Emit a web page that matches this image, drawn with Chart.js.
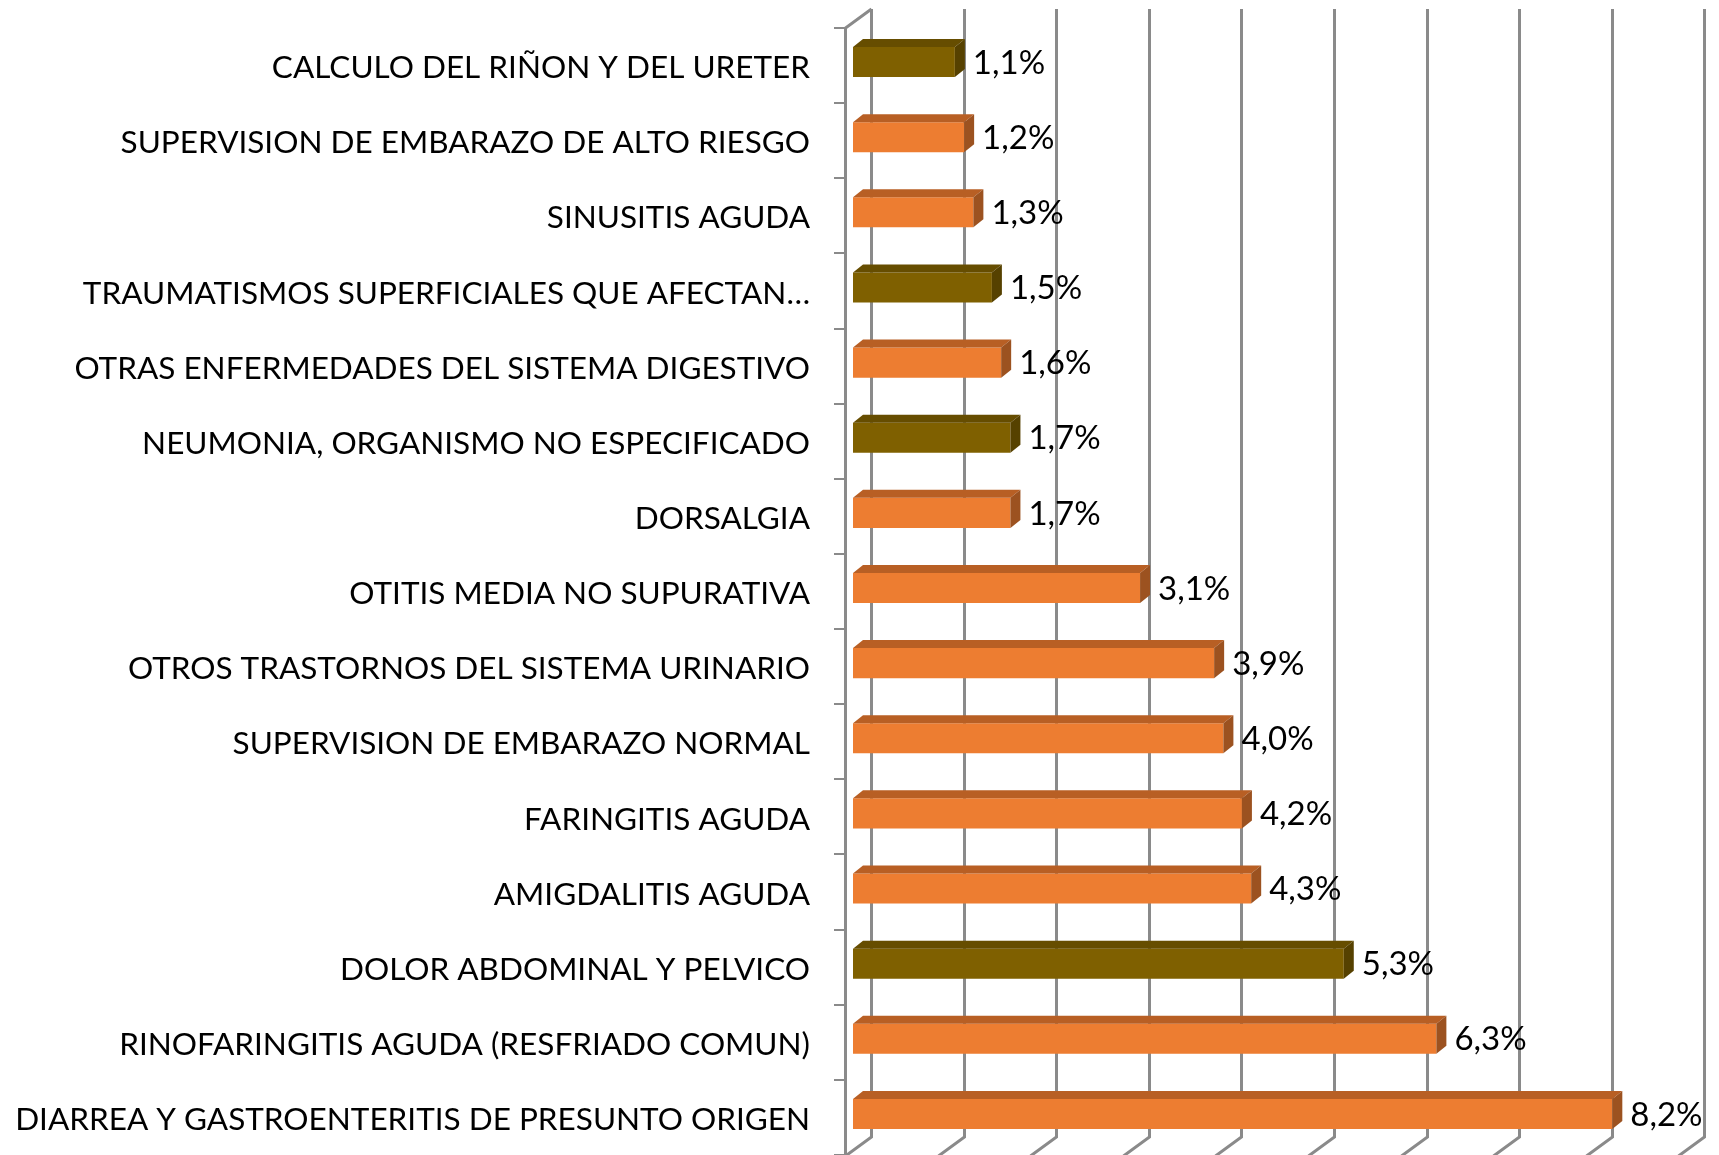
<!DOCTYPE html>
<html>
<head>
<meta charset="utf-8">
<script src="https://cdn.jsdelivr.net/npm/chart.js@4.4.1/dist/chart.umd.min.js"></script>
<style>
html,body{margin:0;padding:0;background:#fff;}
#wrap{width:1719px;height:1155px;}
</style>
</head>
<body>
<div id="wrap"><canvas id="c" width="1719" height="1155"></canvas></div>
<script>
const categories = [
  "CALCULO DEL RIÑON Y DEL URETER",
  "SUPERVISION DE EMBARAZO DE ALTO RIESGO",
  "SINUSITIS AGUDA",
  "TRAUMATISMOS SUPERFICIALES QUE AFECTAN…",
  "OTRAS ENFERMEDADES DEL SISTEMA DIGESTIVO",
  "NEUMONIA, ORGANISMO NO ESPECIFICADO",
  "DORSALGIA",
  "OTITIS MEDIA NO SUPURATIVA",
  "OTROS TRASTORNOS DEL SISTEMA URINARIO",
  "SUPERVISION DE EMBARAZO NORMAL",
  "FARINGITIS AGUDA",
  "AMIGDALITIS AGUDA",
  "DOLOR ABDOMINAL Y PELVICO",
  "RINOFARINGITIS AGUDA (RESFRIADO COMUN)",
  "DIARREA Y GASTROENTERITIS DE PRESUNTO ORIGEN"
];
const percentages = [1.1, 1.2, 1.3, 1.5, 1.6, 1.7, 1.7, 3.1, 3.9, 4.0, 4.2, 4.3, 5.3, 6.3, 8.2];
const highlighted = [true, false, false, true, false, true, false, false, false, false, false, false, true, false, false];
const axisTicks = [0, 1, 2, 3, 4, 5, 6, 7, 8, 9];

const ORANGE = {front:'#ED7D31', top:'#B85F24', side:'#9C5220'};
const OLIVE  = {front:'#7F6000', top:'#664D00', side:'#564100'};
const FONT = 'Lato';
const FS_CAT = 31.5;
const FS_VAL = 33;
const GRID = '#8A8A8A';

const fmt = v => v.toFixed(1).replace('.', ',') + '%';

const threeD = {
  id: 'threeD',
  beforeDatasetsDraw(chart) {
    const ctx = chart.ctx;
    const xs = chart.scales.x, ys = chart.scales.y;
    const backDX = 18, backTop = 9, backBottom = 1137;
    const frontX = 845, frontTop = ys.top + 3.5, frontBottom = 1160;
    ctx.save();
    ctx.strokeStyle = GRID;
    ctx.lineWidth = 3;
    axisTicks.forEach(t => {
      const gx = Math.round(xs.getPixelForValue(t) + backDX) + 0.5;
      ctx.beginPath();
      ctx.moveTo(gx, backTop);
      ctx.lineTo(gx, backBottom);
      ctx.lineTo(gx - 26, backBottom + 19);
      ctx.stroke();
    });
    const x0 = Math.round(xs.getPixelForValue(0) + backDX) + 0.5;
    ctx.beginPath();
    ctx.moveTo(x0, backTop);
    ctx.lineTo(frontX + 0.5, frontTop);
    ctx.lineTo(frontX + 0.5, frontBottom);
    ctx.stroke();
    ctx.lineWidth = 2;
    const n = categories.length;
    const band = (ys.bottom - ys.top) / n;
    for (let i = 0; i <= n; i++) {
      const y = Math.round(frontTop + i * band);
      ctx.beginPath();
      ctx.moveTo(frontX - 11, y);
      ctx.lineTo(frontX, y);
      ctx.stroke();
    }
    ctx.restore();
  },
  afterDatasetsDraw(chart) {
    const ctx = chart.ctx;
    const meta = chart.getDatasetMeta(0);
    const dx = 10, dy = -8;
    ctx.save();
    meta.data.forEach((bar, i) => {
      const c = highlighted[i] ? OLIVE : ORANGE;
      const left = bar.base, right = bar.x;
      const top = bar.y - bar.height / 2, bottom = bar.y + bar.height / 2;
      ctx.fillStyle = c.top;
      ctx.beginPath();
      ctx.moveTo(left, top);
      ctx.lineTo(left + dx, top + dy);
      ctx.lineTo(right + dx, top + dy);
      ctx.lineTo(right, top);
      ctx.closePath();
      ctx.fill();
      ctx.fillStyle = c.side;
      ctx.beginPath();
      ctx.moveTo(right, top);
      ctx.lineTo(right + dx, top + dy);
      ctx.lineTo(right + dx, bottom + dy);
      ctx.lineTo(right, bottom);
      ctx.closePath();
      ctx.fill();
      ctx.fillStyle = '#000';
      ctx.font = FS_VAL + 'px ' + FONT;
      ctx.textAlign = 'left';
      ctx.textBaseline = 'middle';
      ctx.fillText(fmt(percentages[i]), right + dx + 8, bar.y + 1);
    });
    ctx.restore();
  }
};

new Chart(document.getElementById('c'), {
  type: 'bar',
  data: {
    labels: categories,
    datasets: [{
      data: percentages,
      backgroundColor: highlighted.map(h => h ? OLIVE.front : ORANGE.front),
      borderWidth: 0,
      categoryPercentage: 1,
      barPercentage: 0.4
    }]
  },
  options: {
    indexAxis: 'y',
    responsive: false,
    devicePixelRatio: 1,
    animation: false,
    layout: { padding: { top: 24.5, bottom: 3.5, left: 0, right: 32.6 } },
    plugins: { legend: { display: false }, tooltip: { enabled: false } },
    scales: {
      x: { type: 'linear', min: 0, max: 9, display: false },
      y: {
        type: 'category',
        position: 'left',
        afterFit(scale) { scale.width = 853; scale.paddingTop = 0; scale.paddingBottom = 0; },
        grid: { display: false, drawTicks: false, tickLength: 0 },
        border: { display: false },
        ticks: {
          autoSkip: false,
          padding: 43,
          labelOffset: 6,
          color: '#000',
          font: { family: FONT, size: FS_CAT }
        }
      }
    }
  },
  plugins: [threeD]
});
</script>
</body>
</html>
